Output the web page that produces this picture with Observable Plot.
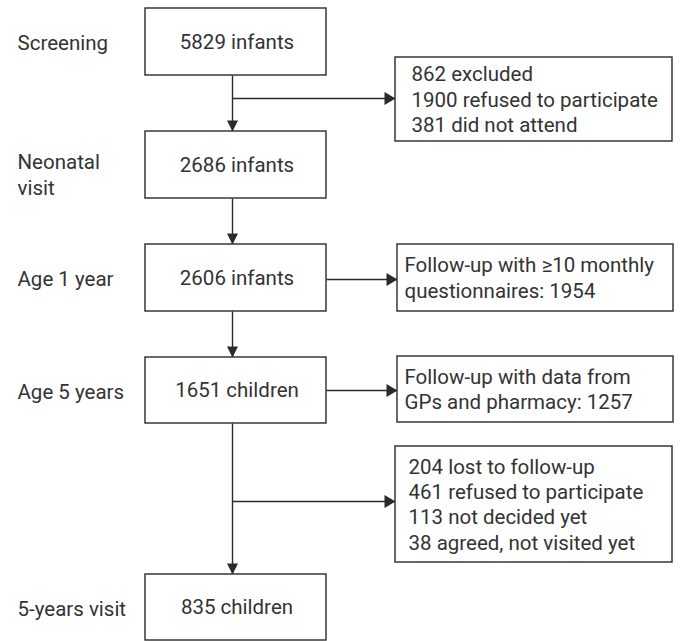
<!DOCTYPE html>
<html><head><meta charset="utf-8">
<script src="https://cdn.jsdelivr.net/npm/d3@7"></script>
<script src="https://cdn.jsdelivr.net/npm/@observablehq/plot@0.6"></script>
<style>body{margin:0;background:#fff}</style>
</head><body><div id="chart"></div>
<script>
// ---- data ----
const stageLabels = ["Screening", "Neonatal\nvisit", "Age 1 year", "Age 5 years", "5-years visit"];
const stageCounts = [5829, 2686, 2606, 1651, 835];
const stageUnits = ["infants", "infants", "infants", "children", "children"];
const sideNotes = [
  "862 excluded\n1900 refused to participate\n381 did not attend",
  "Follow-up with \u226510 monthly\nquestionnaires: 1954",
  "Follow-up with data from\nGPs and pharmacy: 1257",
  "204 lost to follow-up\n461 refused to participate\n113 not decided yet\n38 agreed, not visited yet"
];
const sideFrom = [0, 2, 3, 3];            // stage each note hangs from
const sideBranch = [true, false, false, true]; // branches off the connector line

// ---- layout (drawing units) ----
const mainX = [145, 326];
const spineX = 232;
const mainY = [[8, 75], [131, 198], [244, 311], [357, 423], [574, 640]];
const sideBox = [[395, 672, 57, 141], [397, 673, 244, 311], [397, 673, 356, 422], [395, 672, 446, 562]];
const sideArrowY = [98, 279, 390, 501];
const sidePad = [16, 7, 7, 13];
const labelX = 17;

const ink = "#2a2a2a";
const textInk = "#333";
const font = "Roboto";
const fs = 20.5;
const lh = 1.24;

const main = stageLabels.map((label, i) => ({
  label, text: `${stageCounts[i]} ${stageUnits[i]}`,
  x1: mainX[0], x2: mainX[1], y1: mainY[i][0], y2: mainY[i][1],
  cx: (mainX[0] + mainX[1]) / 2 + 1, cy: (mainY[i][0] + mainY[i][1]) / 2,
  ly: (mainY[i][0] + mainY[i][1]) / 2 + (label.split("\n").length - 1) * 9
}));
const side = sideNotes.map((text, i) => ({
  text, x1: sideBox[i][0], x2: sideBox[i][1], y1: sideBox[i][2], y2: sideBox[i][3],
  tx: sideBox[i][0] + sidePad[i], cy: (sideBox[i][2] + sideBox[i][3]) / 2 - 1,
  ax1: sideBranch[i] ? spineX : mainX[1], ay: sideArrowY[i]
}));
const spine = main.slice(1).map((d, i) => ({ y1: main[i].y2, y2: d.y1 }));

const arrowDown = { draw(ctx) { ctx.moveTo(0, 0); ctx.lineTo(-5.5, -11); ctx.lineTo(5.5, -11); ctx.closePath(); } };
const arrowRight = { draw(ctx) { ctx.moveTo(0, 0); ctx.lineTo(-11, -6.5); ctx.lineTo(-11, 6.5); ctx.closePath(); } };

const chart = Plot.plot({
  width: 680, height: 641, margin: 0,
  x: { domain: [0, 680], range: [0, 680], axis: null },
  y: { domain: [0, 641], range: [0, 641], axis: null },
  style: { fontFamily: font, background: "#fff" },
  marks: [
    Plot.link(spine, { x1: () => spineX, x2: () => spineX, y1: "y1", y2: "y2", stroke: ink, strokeWidth: 1.4 }),
    Plot.link(side, { x1: "ax1", x2: "x1", y1: "ay", y2: "ay", stroke: ink, strokeWidth: 1.4 }),
    Plot.dot(spine, { x: () => spineX, y: "y2", symbol: arrowDown, fill: ink, stroke: "none" }),
    Plot.dot(side, { x: "x1", y: "ay", symbol: arrowRight, fill: ink, stroke: "none" }),
    Plot.rect(main, { x1: "x1", x2: "x2", y1: "y1", y2: "y2", fill: "white", stroke: ink, strokeWidth: 1.4 }),
    Plot.rect(side, { x1: "x1", x2: "x2", y1: "y1", y2: "y2", fill: "white", stroke: ink, strokeWidth: 1.4 }),
    Plot.text(main, { x: "cx", y: "cy", text: "text", fontSize: fs, fill: textInk }),
    Plot.text(main, { x: () => labelX, y: "ly", text: "label", textAnchor: "start", fontSize: fs, fill: textInk, lineHeight: lh }),
    Plot.text(side, { x: "tx", y: "cy", text: "text", textAnchor: "start", fontSize: fs, fill: textInk, lineHeight: lh })
  ]
});
document.getElementById("chart").append(chart);
</script>
</body></html>
